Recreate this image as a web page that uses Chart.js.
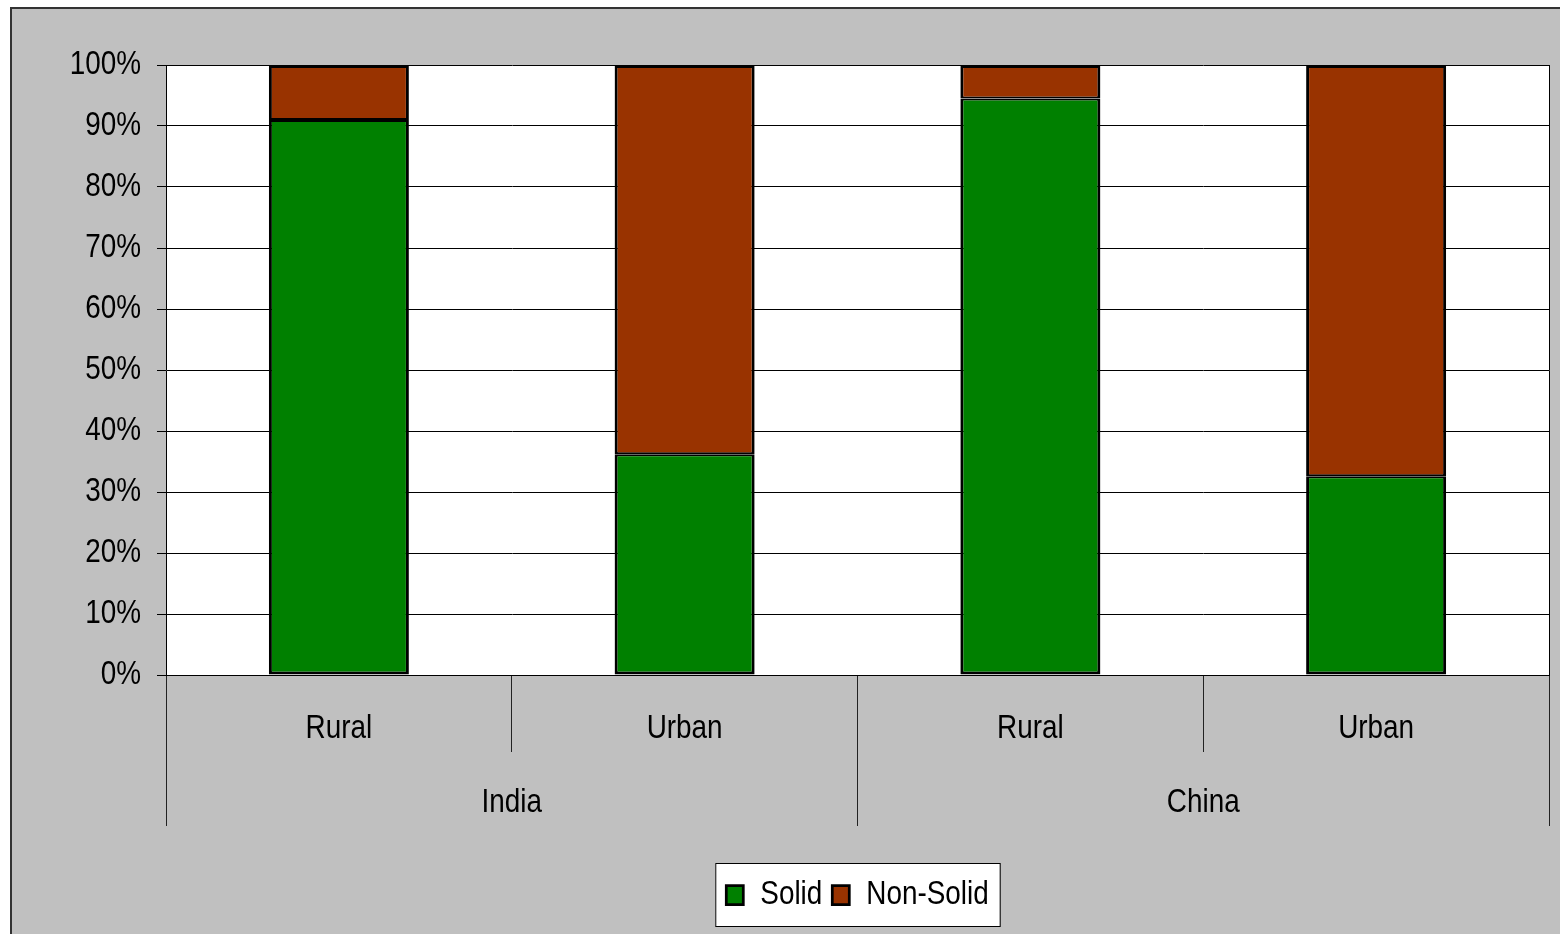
<!DOCTYPE html>
<html lang="en">
<head>
<meta charset="UTF-8">
<title>Solid vs Non-Solid fuel use</title>
<script src="https://cdn.jsdelivr.net/npm/chart.js"></script>
<style>
  body { margin: 0; background: #fff; width: 1560px; height: 934px; overflow: hidden; }
  .frame { position: absolute; left: 10px; top: 7px; width: 1560px; height: 940px;
           background: #c0c0c0; border-top: 2px solid #333; border-left: 2px solid #333; }
  canvas { display: block; }
</style>
</head>
<body>
<div class="frame"><canvas id="fuelChart" width="1548" height="925"></canvas></div>
<script>
// categories and shares (%)
const areas = ['Rural', 'Urban', 'Rural', 'Urban'];
const countries = ['India', 'China'];
const solid = [91, 36.2, 94.5, 32.6];
const nonSolid = [9, 63.8, 5.5, 67.4];

Chart.defaults.font.family = "'Liberation Sans', Arial, sans-serif";
Chart.defaults.font.size = 34;
Chart.defaults.color = '#000';

// no narrow face installed, so squeeze the text horizontally (Arial Narrow look)
const NARROW = 0.82;
const canvas = document.getElementById('fuelChart');
const c2d = canvas.getContext('2d');
const rawFill = c2d.fillText.bind(c2d);
const rawMeasure = c2d.measureText.bind(c2d);
c2d.fillText = function (text, x, y) {
  this.save();
  this.translate(x, y);
  this.scale(NARROW, 1);
  rawFill(text, 0, 0);
  this.restore();
};
c2d.measureText = function (text) {
  const m = rawMeasure(text);
  return {
    width: m.width * NARROW,
    actualBoundingBoxAscent: m.actualBoundingBoxAscent,
    actualBoundingBoxDescent: m.actualBoundingBoxDescent,
    actualBoundingBoxLeft: m.actualBoundingBoxLeft * NARROW,
    actualBoundingBoxRight: m.actualBoundingBoxRight * NARROW
  };
};

// white plot area + boxed legend
const plotBackground = {
  id: 'plotBackground',
  beforeDraw(chart) {
    const { ctx, chartArea: a, legend } = chart;
    ctx.save();
    ctx.fillStyle = '#fff';
    ctx.fillRect(a.left, a.top, a.right - a.left, a.bottom - a.top);
    const boxes = legend.legendHitBoxes || [];
    if (boxes.length) {
      const l = Math.min(...boxes.map(b => b.left)) - 11;
      const r = Math.max(...boxes.map(b => b.left + b.width)) + 11;
      const t = boxes[0].top - 15;
      const b = boxes[0].top + boxes[0].height + 14;
      ctx.fillRect(l, t, r - l, b - t);
      ctx.strokeStyle = '#000';
      ctx.lineWidth = 1;
      ctx.strokeRect(l + 0.5, t + 0.5, r - l, b - t);
    }
    ctx.restore();
  }
};

new Chart(canvas, {
  type: 'bar',
  data: {
    labels: areas,
    datasets: [
      { label: 'Solid', data: solid, backgroundColor: '#008000', borderColor: '#000',
        borderWidth: { top: 2, right: 3, bottom: 3, left: 3 }, borderSkipped: false },
      { label: 'Non-Solid', data: nonSolid, backgroundColor: '#993300', borderColor: '#000',
        borderWidth: { top: 3, right: 3, bottom: 2, left: 3 }, borderSkipped: false }
    ]
  },
  options: {
    responsive: false,
    animation: false,
    devicePixelRatio: 1,
    barPercentage: 0.405,
    categoryPercentage: 1,
    layout: { padding: { top: 56, right: 11, bottom: 12, left: 0 } },
    plugins: {
      tooltip: { enabled: false },
      legend: {
        position: 'bottom',
        fullSize: false,
        labels: { boxWidth: 17, boxHeight: 19, padding: 10, font: { size: 34 } }
      }
    },
    scales: {
      x: {
        stacked: true,
        weight: 0,
        grid: { offset: true, drawOnChartArea: false, tickLength: 77, color: '#222', lineWidth: 1 },
        border: { display: true, color: '#000', width: 1 },
        ticks: { padding: -44, maxRotation: 0, autoSkip: false },
        afterFit: s => { s.height = 72; }
      },
      x2: {
        type: 'category',
        labels: countries,
        position: 'bottom',
        weight: 1,
        grid: { offset: true, drawOnChartArea: false, tickLength: 79, color: '#222', lineWidth: 1 },
        border: { display: false },
        ticks: { padding: -44, maxRotation: 0, autoSkip: false },
        afterFit: s => { s.height = 121; }
      },
      y: {
        stacked: true,
        min: 0,
        max: 100,
        grid: { color: '#000', lineWidth: 1, tickLength: 9 },
        border: { display: true, color: '#000', width: 1 },
        ticks: { stepSize: 10, padding: 16, callback: v => v + '%' },
        afterFit: s => { s.width = 154; }
      },
      yRight: {
        position: 'right',
        min: 0,
        max: 100,
        grid: { display: false },
        ticks: { display: false },
        border: { display: true, color: '#000', width: 1 },
        afterFit: s => { s.width = 0; }
      }
    }
  },
  plugins: [plotBackground]
});
</script>
</body>
</html>
